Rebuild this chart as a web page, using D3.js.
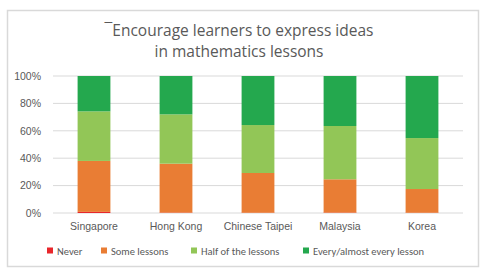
<!DOCTYPE html>
<html>
<head>
<meta charset="utf-8">
<script src="https://cdn.jsdelivr.net/npm/d3@7"></script>
<style>
  body { margin: 0; background: #fff; }
  svg { display: block; font-family: Calibri, Carlito, Lato, sans-serif; }
</style>
</head>
<body>
<svg class="chart"></svg>
<script>
const countries = ["Singapore", "Hong Kong", "Chinese Taipei", "Malaysia", "Korea"];
const series = ["Never", "Some lessons", "Half of the lessons", "Every/almost every lesson"];
const never = [0.8, 0.3, 0.2, 0.3, 0.2];
const some = [37.2, 35.7, 29, 24.3, 17.3];
const half = [36.2, 36, 35, 38.9, 37.2];
const every = [25.8, 28, 35.8, 36.5, 45.3];
const yTicks = [0, 20, 40, 60, 80, 100];
const titleLines = ["¯Encourage learners to express ideas", "in mathematics lessons"];
const colors = ["#e8262b", "#e97d34", "#92c657", "#24a84e"];

const W = 487, H = 276;
const plot = { left: 53, right: 463, top: 76, bottom: 213 };

const rows = countries.map((c, i) => ({
  country: c,
  "Never": never[i],
  "Some lessons": some[i],
  "Half of the lessons": half[i],
  "Every/almost every lesson": every[i]
}));
const stacked = d3.stack().keys(series)(rows);

const x = d3.scaleBand()
  .domain(countries)
  .range([plot.left, plot.right])
  .paddingInner(0.6)
  .paddingOuter(0.3);

const y = d3.scaleLinear()
  .domain([0, 100])
  .range([plot.bottom, plot.top]);

const svg = d3.select('.chart')
  .attr('width', W)
  .attr('height', H);

svg.append('rect')
  .attr('x', 7.5).attr('y', 10.5)
  .attr('width', 471).attr('height', 256)
  .attr('fill', '#fff')
  .attr('stroke', '#d9d9d9')
  .attr('stroke-width', 1.5);

// title, one text per line
svg.append('g')
  .selectAll('text')
  .data(titleLines)
  .enter().append('text')
    .attr('x', 239)
    .attr('y', (d, i) => 36 + i * 21)
    .attr('text-anchor', 'middle')
    .attr('fill', '#595959')
    .style('font-family', '"Open Sans", sans-serif')
    .style('font-size', '15.5px')
    .text(d => d);

// grid
svg.append('g')
  .selectAll('line')
  .data(yTicks)
  .enter().append('line')
    .attr('x1', plot.left).attr('x2', plot.right)
    .attr('y1', d => y(d)).attr('y2', d => y(d))
    .attr('stroke', '#d9d9d9')
    .attr('stroke-width', 1);

const yAxis = d3.axisLeft(y)
  .tickValues(yTicks)
  .tickFormat(d => d + '%')
  .tickSize(0)
  .tickPadding(12);

svg.append('g')
  .attr('class', 'y axis')
  .attr('transform', 'translate(' + plot.left + ',0)')
  .call(yAxis)
  .call(g => g.select('.domain').remove())
  .call(g => g.selectAll('text').attr('fill', '#595959').style('font-size', '10.5px').style('font-family', 'inherit'));

// bars
svg.append('g')
  .selectAll('g')
  .data(stacked)
  .enter().append('g')
    .attr('fill', (d, i) => colors[i])
  .selectAll('rect')
  .data(d => d)
  .enter().append('rect')
    .attr('x', d => x(d.data.country))
    .attr('y', d => y(d[1]))
    .attr('height', d => y(d[0]) - y(d[1]))
    .attr('width', x.bandwidth());

const xAxis = d3.axisBottom(x)
  .tickSize(0)
  .tickPadding(10);

svg.append('g')
  .attr('class', 'x axis')
  .attr('transform', 'translate(0,' + plot.bottom + ')')
  .call(xAxis)
  .call(g => g.select('.domain').remove())
  .call(g => g.selectAll('text').attr('fill', '#595959').style('font-size', '10.5px').style('font-family', 'inherit'));

// legend
const legendX = [47, 101, 191, 303];
const legend = svg.append('g')
  .selectAll('g')
  .data(series)
  .enter().append('g')
    .attr('transform', (d, i) => 'translate(' + legendX[i] + ',251)');
legend.append('rect')
  .attr('x', 0).attr('y', -3.5)
  .attr('width', 6).attr('height', 6)
  .attr('fill', (d, i) => colors[i]);
legend.append('text')
  .attr('x', 10).attr('y', 0)
  .attr('dy', '0.35em')
  .attr('fill', '#595959')
  .style('font-size', '10.5px')
  .text(d => d);
</script>
</body>
</html>
